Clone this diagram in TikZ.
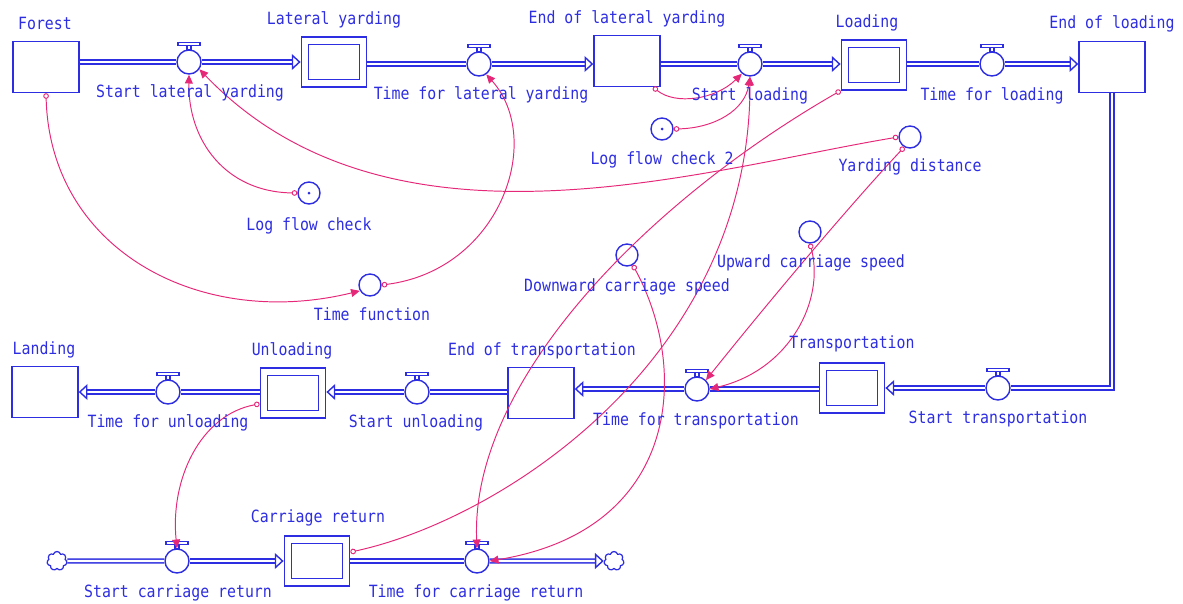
\documentclass[tikz,border=0pt]{standalone}
\usepackage{fontspec}
\setmainfont{DejaVu Sans Mono}[FakeStretch=0.88]
\usetikzlibrary{arrows.meta,shapes.symbols}

\definecolor{sdblue}{RGB}{45,45,225}
\definecolor{sdpink}{RGB}{230,40,120}

\tikzset{
  stock/.style={draw=sdblue, line width=0.8pt, minimum width=1.32cm, minimum height=1.02cm, inner sep=0pt},
  conveyor/.style={draw=sdblue, line width=0.8pt, double=white, double distance=0.12cm,
    minimum width=1.16cm, minimum height=0.85cm, inner sep=0pt, outer sep=0.088cm},
  valve/.style={circle, draw=sdblue, line width=0.8pt, fill=white, minimum size=0.48cm, inner sep=0pt},
  aux/.style={circle, draw=sdblue, line width=0.8pt, fill=white, minimum size=0.44cm, inner sep=0pt},
  cloudy/.style={cloud, cloud puffs=7, aspect=1, draw=sdblue, line width=0.7pt, fill=white,
    minimum width=0.4cm, minimum height=0.38cm, inner sep=0pt},
  pipe/.style={draw=sdblue, line width=0.8pt, double=white, double distance=1.4pt},
  pipeto/.style={pipe, -{Triangle[open, length=5pt, width=9pt]}},
  link/.style={draw=sdpink, line width=0.55pt, arrows={Circle[open, length=3.2pt]-Triangle[length=5pt, width=4.5pt]}},
  lbl/.style={text=sdblue, font=\fontsize{9.6}{11}\selectfont, inner sep=0pt, anchor=base},
}

\begin{document}
\begin{tikzpicture}[x=0.02cm, y=-0.02cm]
  \useasboundingbox (0,0) rectangle (1183,603);

  % stocks and conveyors
  \foreach \n/\x/\y in {forest/46/67, endlat/627/61, endload/1112/67, endtrans/541/393, landing/45/392}
    \node[stock] (\n) at (\x,\y) {};
  \foreach \n/\x/\y in {latyard/334/62, loading/874/65, transport/852/388, unloading/293/393, carret/317/561}
    \node[conveyor] (\n) at (\x,\y) {};

  % valves
  \foreach \n/\x/\y in {sly/189/62, tly/479/64, sld/750/64, tld/992/64, str/998/388,
                        ttr/697/389, sun/417/392, tun/168/392, scr/177/561, tcr/477/561}
  {
    \node[valve] (\n) at (\x,\y) {};
    \draw[sdblue, line width=0.7pt] ([shift={(-11,-7)}]\n.north) rectangle ++(22,3);
    \draw[sdblue, line width=0.7pt] ([shift={(-2,-4)}]\n.north) rectangle ++(4,4);
  }

  % auxiliaries
  \foreach \n/\x/\y in {lfc/309/193, lfctwo/662/129, ydist/910/137, tfun/370/285, dcs/627/255, ucs/810/232}
    \node[aux] (\n) at (\x,\y) {};
  \fill[sdblue] (lfc) circle (1.5) (lfctwo) circle (1.5);

  \node[cloudy] (src) at (57,561) {};
  \node[cloudy] (snk) at (614,561) {};

  % flows
  \draw[pipe] (forest.east |- sly) -- (sly.west);
  \draw[pipeto] (sly.east) -- (latyard.west |- sly);
  \draw[pipe] (latyard.east |- tly) -- (tly.west);
  \draw[pipeto] (tly.east) -- (endlat.west |- tly);
  \draw[pipe] (endlat.east |- sld) -- (sld.west);
  \draw[pipeto] (sld.east) -- (loading.west |- sld);
  \draw[pipe] (loading.east |- tld) -- (tld.west);
  \draw[pipeto] (tld.east) -- (endload.west |- tld);
  \draw[pipe] (endload.south) |- (str.east);
  \draw[pipeto] (str.west) -- (transport.east |- str);
  \draw[pipe] (transport.west |- ttr) -- (ttr.east);
  \draw[pipeto] (ttr.west) -- (endtrans.east |- ttr);
  \draw[pipe] (endtrans.west |- sun) -- (sun.east);
  \draw[pipeto] (sun.west) -- (unloading.east |- sun);
  \draw[pipe] (unloading.west |- tun) -- (tun.east);
  \draw[pipeto] (tun.west) -- (landing.east |- tun);
  \draw[pipe] (src.east) -- (scr.west);
  \draw[pipeto] (scr.east) -- (carret.west |- scr);
  \draw[pipe] (carret.east |- tcr) -- (tcr.west);
  \draw[pipeto] (tcr.east) -- (snk.west);

  % links
  \draw[link] (forest.south) .. controls (50,250) and (200,330) .. (tfun.210);
  \draw[link] (lfc.west) .. controls (225,192) and (188,140) .. (sly.south);
  \draw[link] (ydist.west) .. controls (700,170) and (390,268) .. (sly.-35);
  \draw[link] (tfun.east) .. controls (500,270) and (545,140) .. (tly.-55);
  \draw[link] (endlat.-45) .. controls (675,105) and (715,100) .. (sld.-130);
  \draw[link] (lfctwo.east) .. controls (715,128) and (745,110) .. (sld.south);
  \draw[link] (loading.south west) .. controls (650,200) and (470,380) .. (tcr.north);
  \draw[link] (carret.15) .. controls (500,520) and (750,360) .. (sld.south);
  \draw[link] (dcs.-60) .. controls (690,370) and (680,530) .. (tcr.east);
  \draw[link] (ydist.-120) .. controls (850,205) and (770,300) .. (ttr.45);
  \draw[link] (ucs.south) .. controls (825,300) and (790,370) .. (ttr.east);
  \draw[link] (unloading.-162) .. controls (200,415) and (170,480) .. (scr.north);

  % labels
  \foreach \n/\x/\y/\t in {forest/45/29/Forest, sly/190/97/Start lateral yarding,
      latyard/334/24/Lateral yarding, tly/481/99/Time for lateral yarding,
      endlat/627/23/End of lateral yarding, sld/750/100/Start loading,
      loading/867/27/Loading, tld/992/100/Time for loading, endload/1112/28/End of loading,
      lfctwo/662/164/Log flow check 2, ydist/910/171/Yarding distance,
      lfc/309/230/Log flow check, ucs/811/267/Upward carriage speed,
      dcs/627/291/Downward carriage speed, tfun/372/320/Time function,
      transport/852/348/Transportation, endtrans/542/355/End of transportation,
      unloading/292/355/Unloading, landing/44/354/Landing,
      tun/168/427/Time for unloading, sun/416/427/Start unloading,
      ttr/696/425/Time for transportation, str/998/423/Start transportation,
      carret/318/522/Carriage return, scr/178/597/Start carriage return,
      tcr/476/597/Time for carriage return}
    \node[lbl] (\n-l) at (\x,\y) {\t};
\end{tikzpicture}
\end{document}
